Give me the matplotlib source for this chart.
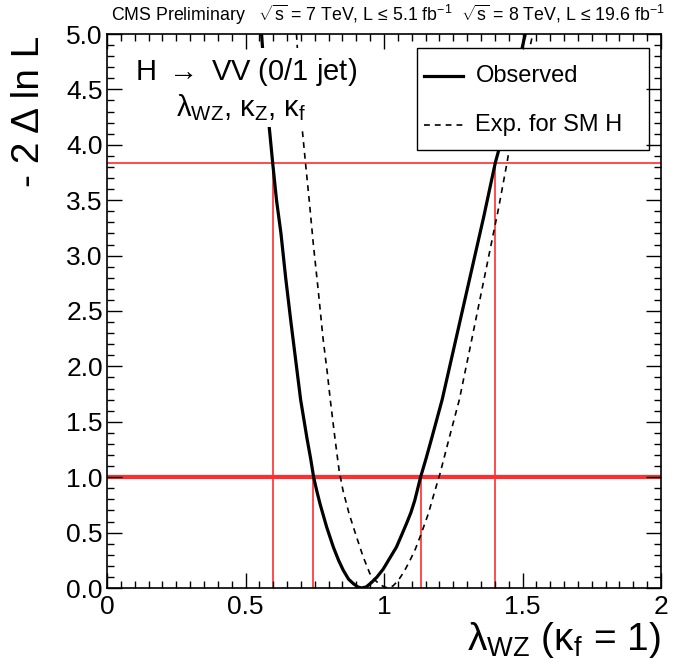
import matplotlib
matplotlib.use("Agg")
import matplotlib.pyplot as plt
from matplotlib.patches import Rectangle
from matplotlib.lines import Line2D
from matplotlib.ticker import MultipleLocator, FormatStrFormatter

plt.rcParams['font.family'] = ['Liberation Sans', 'DejaVu Sans']
plt.rcParams['mathtext.fontset'] = 'custom'
plt.rcParams['mathtext.rm'] = 'Liberation Sans'
plt.rcParams['mathtext.it'] = 'Liberation Sans:italic'
plt.rcParams['mathtext.sf'] = 'Liberation Sans'

# ---------------- data ----------------
obs_x = [0.558, 0.572, 0.588, 0.598, 0.612, 0.628, 0.645, 0.664, 0.683, 0.699,
         0.722, 0.735, 0.746, 0.757, 0.769, 0.793, 0.817, 0.836, 0.853, 0.872,
         0.889, 0.905, 0.919, 0.936, 0.955, 0.975, 0.997, 1.021, 1.045, 1.064,
         1.081, 1.097, 1.111, 1.132, 1.152, 1.172, 1.210, 1.260, 1.310, 1.360,
         1.402, 1.425, 1.465, 1.510]
obs_y = [5.00, 4.50, 4.10, 3.84, 3.50, 3.20, 2.80, 2.40, 2.02, 1.70,
         1.35, 1.17, 1.00, 0.88, 0.76, 0.55, 0.37, 0.25, 0.16, 0.08,
         0.04, 0.01, 0.00, 0.01, 0.05, 0.10, 0.17, 0.27, 0.37, 0.48,
         0.58, 0.68, 0.79, 1.00, 1.17, 1.35, 1.70, 2.25, 2.80, 3.35,
         3.84, 4.05, 4.50, 5.00]

exp_x = [0.684, 0.694, 0.706, 0.718, 0.730, 0.745, 0.762, 0.780, 0.795, 0.806,
         0.823, 0.838, 0.852, 0.874, 0.901, 0.925, 0.949, 0.968, 0.986, 1.001,
         1.016, 1.033, 1.052, 1.073, 1.094, 1.113, 1.130, 1.160, 1.184, 1.202,
         1.235, 1.272, 1.310, 1.350, 1.390, 1.413, 1.445, 1.452, 1.490, 1.537]
exp_y = [5.00, 4.60, 4.11, 3.80, 3.50, 3.10, 2.70, 2.25, 1.95, 1.70,
         1.35, 1.06, 0.88, 0.67, 0.46, 0.28, 0.13, 0.07, 0.03, 0.01,
         0.00, 0.02, 0.07, 0.15, 0.25, 0.35, 0.46, 0.67, 0.88, 1.03,
         1.35, 1.70, 2.16, 2.65, 3.14, 3.42, 3.85, 3.96, 4.45, 5.00]

cl_levels = [1.0, 3.84]
cl68_bounds = [0.745, 1.132]
cl95_bounds = [0.598, 1.402]

x_ticks = [0, 0.5, 1, 1.5, 2]
x_ticklabels = ["0", "0.5", "1", "1.5", "2"]

labels = ["Observed", "Exp. for SM H"]

# ---------------- figure ----------------
W, H = 674, 669
fig = plt.figure(figsize=(W / 100, H / 100), dpi=100)
L, R, T, B = 107, 661, 34, 588
ax = fig.add_axes([L / W, (H - B) / H, (R - L) / W, (B - T) / H])
ax.set_xlim(0, 2)
ax.set_ylim(0, 5)

red = '#ff2e2e'
ax.axhline(cl_levels[0], color=red, lw=3.0, zorder=1.5)
ax.axhline(cl_levels[1], color=red, lw=1.2, zorder=1.5)
for xv in cl68_bounds:
    ax.plot([xv, xv], [0, cl_levels[0]], color=red, lw=1.2, zorder=1.5)
for xv in cl95_bounds:
    ax.plot([xv, xv], [0, cl_levels[1]], color=red, lw=1.2, zorder=1.5)

ax.plot(exp_x, exp_y, color='black', lw=1.2, ls=(0, (3.5, 3)), zorder=2,
        solid_joinstyle='round')
ax.plot(obs_x, obs_y, color='black', lw=2.3, zorder=2.2, solid_joinstyle='round')

# white box behind header texts (hides curves)
ax.add_patch(Rectangle((0.06, 4.16), 0.95, 0.71, transform=ax.transData,
                       facecolor='white', edgecolor='none', zorder=3))
ax.text(0.10, 4.66, r"H $\rightarrow$ VV (0/1 jet)", fontsize=21, ha='left', va='center', zorder=4)
ax.text(0.25, 4.34, r"λ$_{\mathrm{WZ}}$, κ$_{\mathrm{Z}}$, κ$_{\mathrm{f}}$", fontsize=21,
        ha='left', va='center', zorder=4)

# legend box
lx0, lx1, ly0, ly1 = 1.119, 1.955, 3.95, 4.87
ax.add_patch(Rectangle((lx0, ly0), lx1 - lx0, ly1 - ly0, facecolor='white',
                       edgecolor='black', lw=1.0, zorder=4))
ax.add_line(Line2D([1.145, 1.285], [4.62, 4.62], color='black', lw=2.3, zorder=5))
ax.add_line(Line2D([1.145, 1.285], [4.18, 4.18], color='black', lw=1.2, ls=(0, (3.5, 3)), zorder=5))
ax.text(1.33, 4.62, labels[0], fontsize=17, ha='left', va='center', zorder=5)
ax.text(1.33, 4.18, labels[1], fontsize=17, ha='left', va='center', zorder=5)

# ticks
ax.set_xticks(x_ticks)
ax.set_xticklabels(x_ticklabels)
ax.xaxis.set_minor_locator(MultipleLocator(0.05))
ax.yaxis.set_major_locator(MultipleLocator(0.5))
ax.yaxis.set_minor_locator(MultipleLocator(0.1))
ax.yaxis.set_major_formatter(FormatStrFormatter('%.1f'))
ax.tick_params(which='both', direction='in', top=True, right=True, width=1.0, labelsize=19)
ax.tick_params(which='major', length=11)
ax.tick_params(which='minor', length=5)
ax.tick_params(axis='x', pad=5)
ax.tick_params(axis='y', pad=3)
ax.xaxis.set_zorder(6)
ax.yaxis.set_zorder(6)
for s in ax.spines.values():
    s.set_zorder(6)
    s.set_linewidth(1.2)

# axis titles
fig.text(29 / W, 1 - 36 / H, "- 2 Δ ln L", rotation=90, ha='center', va='top', fontsize=28)
fig.text(661 / W, 1 - 640 / H, r"λ$_{\mathrm{WZ}}$ (κ$_{\mathrm{f}}$ = 1)", ha='right',
         va='center', fontsize=28)

# header
fig.text(111 / W, 1 - 15 / H,
         r"CMS Preliminary   $\sqrt{\mathrm{s}}$ = 7 TeV, L ≤ 5.1 fb$^{\mathrm{-1}}$  "
         r"$\sqrt{\mathrm{s}}$ = 8 TeV, L ≤ 19.6 fb$^{\mathrm{-1}}$",
         ha='left', va='center', fontsize=12.8)

fig.savefig("out.png", dpi=100, facecolor='white')
